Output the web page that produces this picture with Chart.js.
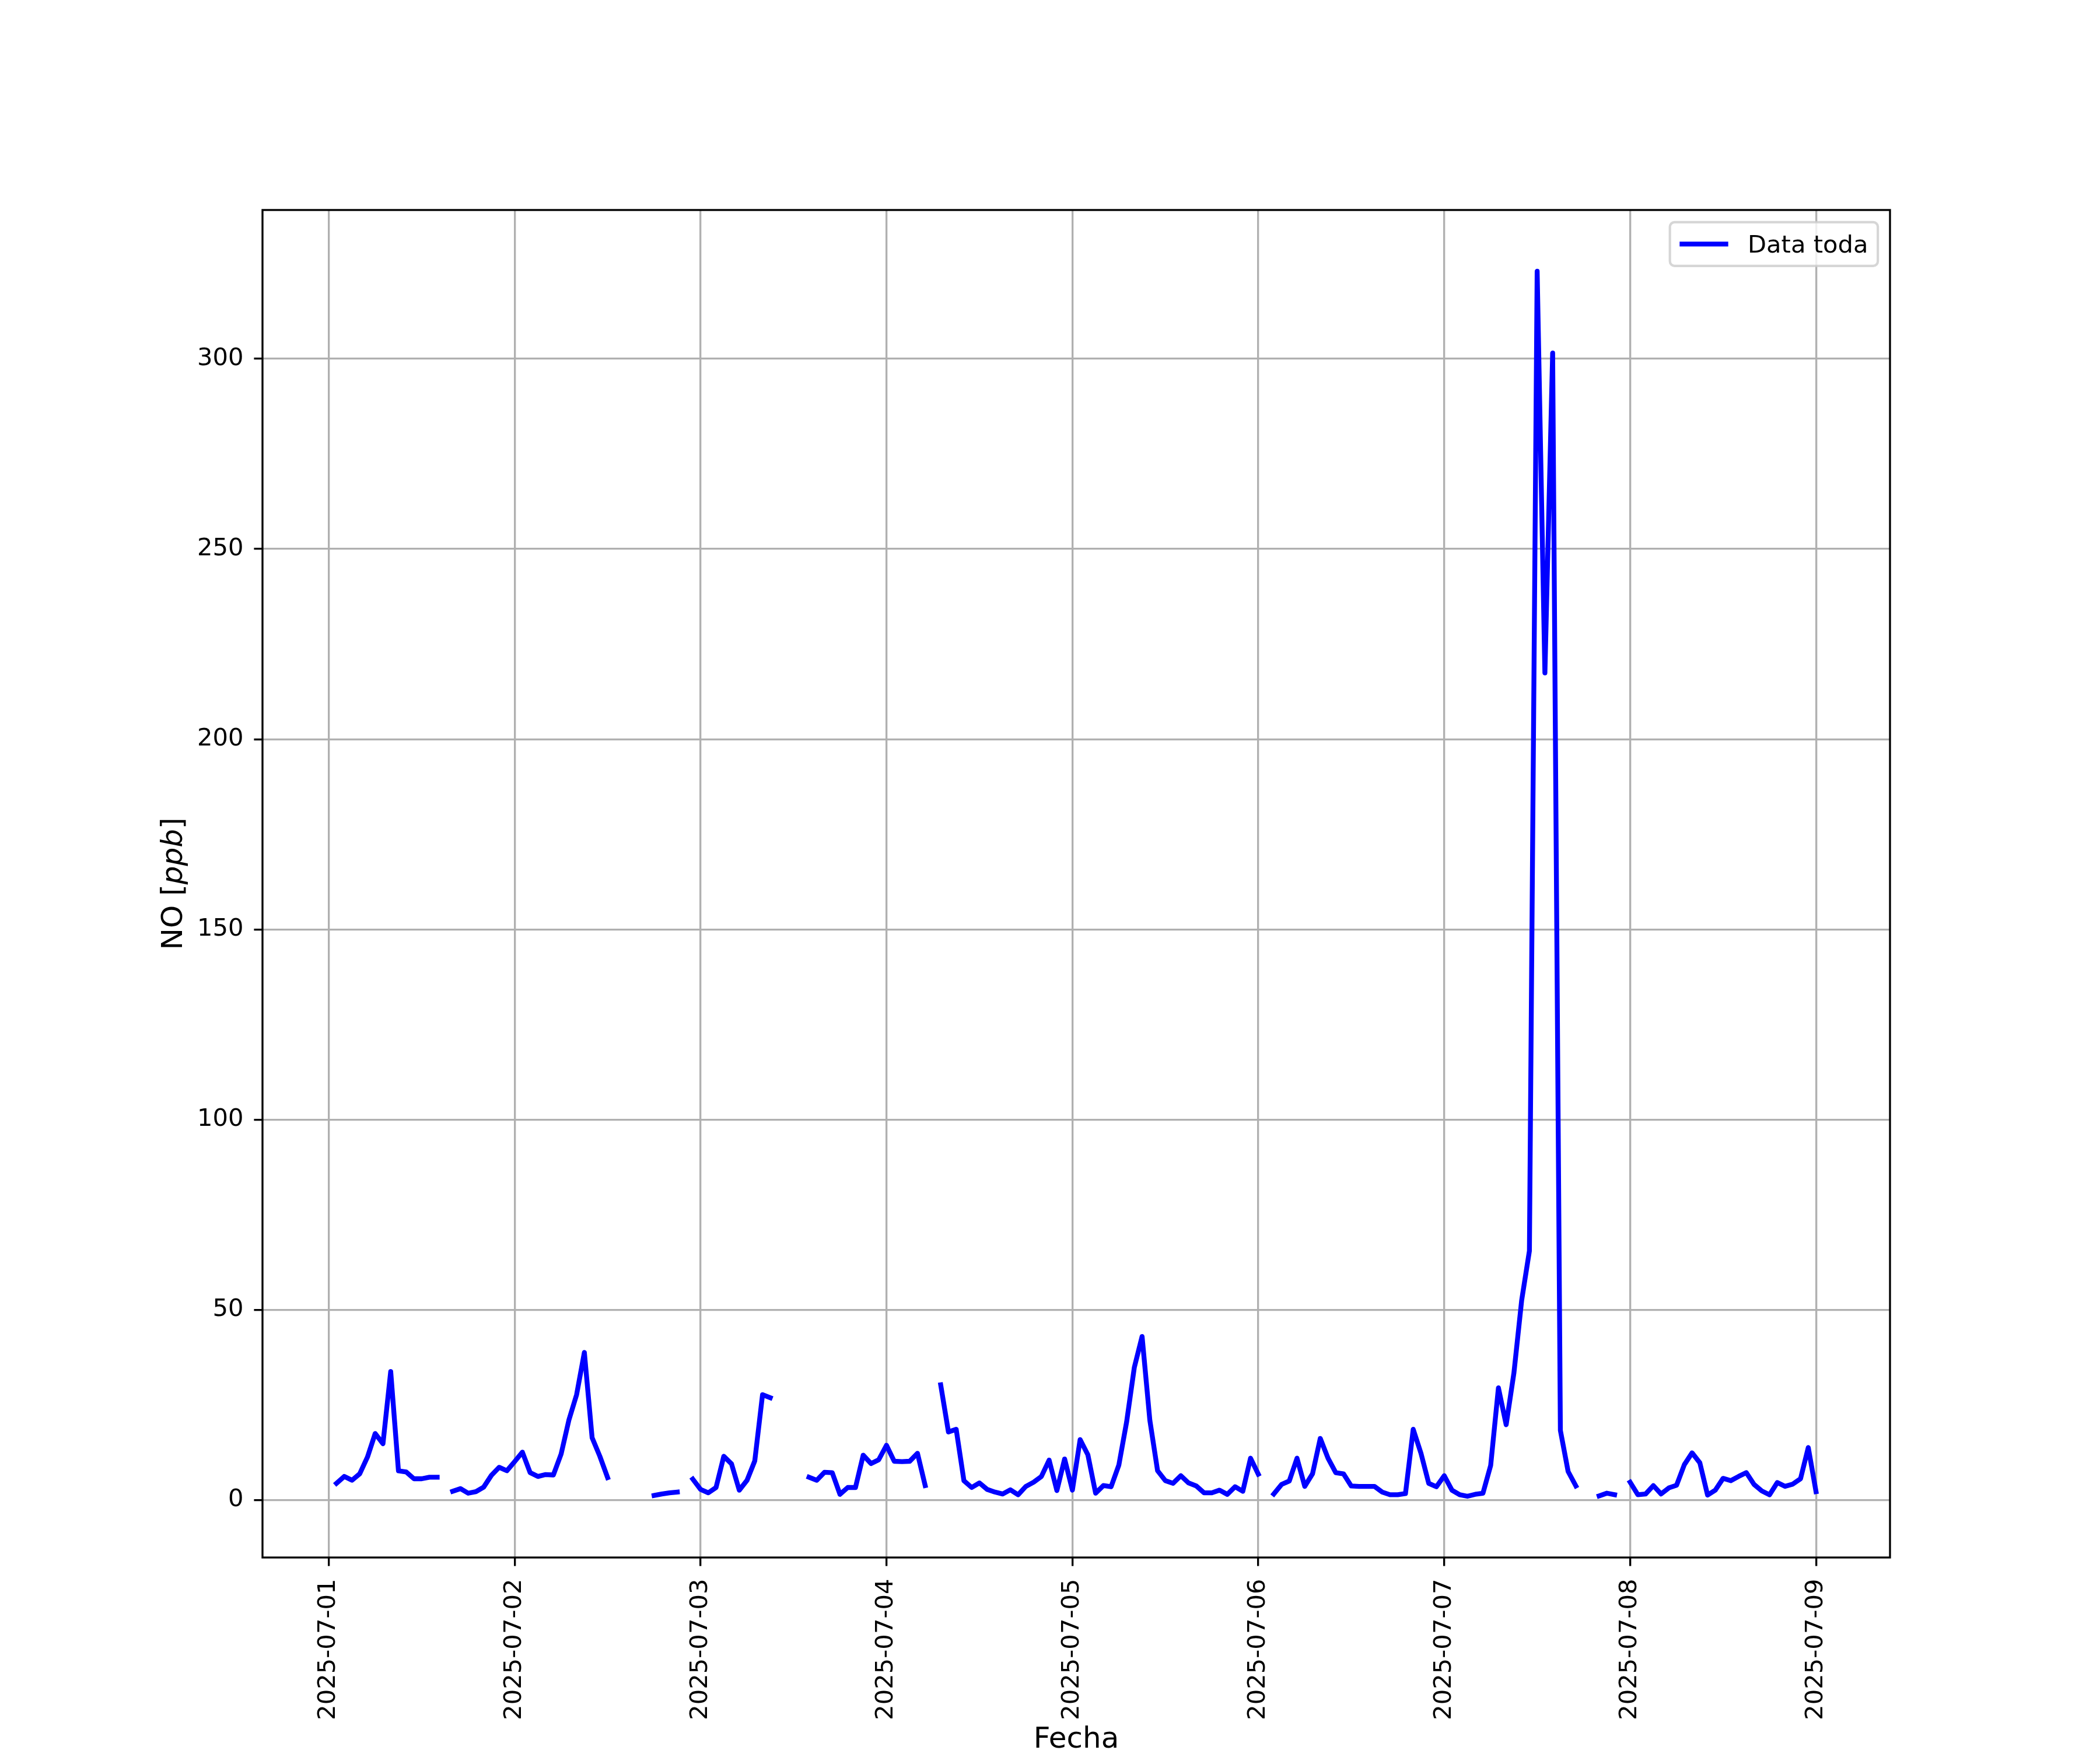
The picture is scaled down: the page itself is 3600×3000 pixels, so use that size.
<!DOCTYPE html>
<html>
<head>
<meta charset="utf-8">
<title>NO - Data toda</title>
<script src="https://cdn.jsdelivr.net/npm/chart.js@4.4.1/dist/chart.umd.min.js"></script>
<style>
    html, body { margin: 0; padding: 0; background: #ffffff; }
    canvas { display: block; }
</style>
</head>
<body>
<canvas id="noChart" width="3600" height="3000"></canvas>
<script>
// Valores horarios de NO [ppb], cada arreglo = horas 01..24 del dia (24 = 00h del dia siguiente)
const day1 = [4.4, 6.2, 5.2, 6.9, 11.3, 17.5, 14.8, 33.8, 7.7, 7.4, 5.6, 5.6, 6.0, 6.0, null, 2.3, 3.0, 1.8, 2.2, 3.4, 6.5, 8.6, 7.7, 10.1];
const day2 = [12.6, 7.2, 6.2, 6.7, 6.6, 12.1, 21.0, 27.7, 38.8, 16.4, 11.5, 5.9, null, null, null, null, null, 1.2, 1.6, 1.9, 2.1, null, 5.5, 2.8];
const day3 = [1.9, 3.3, 11.5, 9.5, 2.6, 5.2, 10.3, 27.7, 26.9, null, null, null, null, 6.0, 5.2, 7.3, 7.2, 1.5, 3.3, 3.3, 11.8, 9.6, 10.6, 14.4];
const day4 = [10.2, 10.1, 10.2, 12.3, 3.8, null, 30.3, 17.9, 18.6, 5.1, 3.3, 4.5, 2.8, 2.1, 1.6, 2.7, 1.4, 3.6, 4.7, 6.2, 10.5, 2.5, 10.8, 2.6];
const day5 = [15.9, 11.9, 1.8, 3.8, 3.5, 9.2, 20.5, 34.9, 43.0, 21.0, 7.7, 5.1, 4.4, 6.4, 4.5, 3.7, 1.9, 1.9, 2.6, 1.5, 3.5, 2.3, 11.0, 6.8];
const day6 = [null, 1.6, 4.1, 5.0, 11.0, 3.6, 6.9, 16.2, 11.0, 7.2, 6.9, 3.7, 3.6, 3.6, 3.6, 2.1, 1.4, 1.4, 1.7, 18.6, 12.3, 4.4, 3.5, 6.4];
const day7 = [2.6, 1.4, 1.0, 1.5, 1.8, 9.1, 29.5, 19.8, 33.4, 52.5, 65.5, 323.0, 217.4, 301.5, 18.3, 7.5, 3.7, null, null, 1.1, 1.8, 1.4, null, 4.7];
const day8 = [1.4, 1.6, 3.8, 1.6, 3.2, 3.9, 9.3, 12.4, 9.8, 1.3, 2.6, 5.7, 5.1, 6.2, 7.2, 4.1, 2.4, 1.4, 4.6, 3.6, 4.2, 5.6, 13.8, 2.2];

const dayLabels = ['2025-07-01', '2025-07-02', '2025-07-03', '2025-07-04', '2025-07-05', '2025-07-06', '2025-07-07', '2025-07-08', '2025-07-09'];
const yTickValues = [0, 50, 100, 150, 200, 250, 300];
const seriesLabel = 'Data toda';

const PT = 300 / 72;              // figura a 300 dpi
const FONT = '"DejaVu Sans", "Liberation Sans", sans-serif';
const TICK_SIZE = 10 * PT;
const LABEL_SIZE = 12 * PT;
const LINE_W = 2 * PT;

// x = horas desde 2025-07-01 00:00
const points = [];
[day1, day2, day3, day4, day5, day6, day7, day8].forEach((day, d) => {
    day.forEach((v, h) => points.push({ x: d * 24 + h + 1, y: v }));
});

// margenes 5% como matplotlib
const xs = points.map(p => p.x);
const ys = points.filter(p => p.y !== null).map(p => p.y);
const xMin = Math.min(...xs), xMax = Math.max(...xs);
const yMin = Math.min(...ys), yMax = Math.max(...ys);
const xPad = (xMax - xMin) * 0.05, yPad = (yMax - yMin) * 0.05;

const framePlugin = {
    id: 'framePlugin',
    afterDatasetsDraw(chart) {
        const { ctx, chartArea: a } = chart;
        ctx.save();
        // ejes (spines)
        ctx.strokeStyle = '#000000';
        ctx.lineWidth = 0.8 * PT;
        ctx.strokeRect(a.left, a.top, a.right - a.left, a.bottom - a.top);

        // leyenda arriba a la derecha
        ctx.font = `${TICK_SIZE}px ${FONT}`;
        const textW = ctx.measureText(seriesLabel).width;
        const boxRight = a.right - 0.5 * TICK_SIZE;
        const boxTop = a.top + 0.5 * TICK_SIZE;
        const boxW = 0.4 * TICK_SIZE * 2 + 2.0 * TICK_SIZE + 0.8 * TICK_SIZE + textW;
        const boxH = 75;
        const boxLeft = boxRight - boxW;
        const r = 8;
        ctx.beginPath();
        ctx.moveTo(boxLeft + r, boxTop);
        ctx.arcTo(boxRight, boxTop, boxRight, boxTop + boxH, r);
        ctx.arcTo(boxRight, boxTop + boxH, boxLeft, boxTop + boxH, r);
        ctx.arcTo(boxLeft, boxTop + boxH, boxLeft, boxTop, r);
        ctx.arcTo(boxLeft, boxTop, boxRight, boxTop, r);
        ctx.closePath();
        ctx.fillStyle = 'rgba(255,255,255,0.8)';
        ctx.fill();
        ctx.strokeStyle = 'rgba(204,204,204,0.8)';
        ctx.lineWidth = 1.0 * PT;
        ctx.stroke();

        const midY = boxTop + boxH / 2;
        const hx = boxLeft + 0.4 * TICK_SIZE;
        ctx.strokeStyle = '#0000ff';
        ctx.lineWidth = LINE_W;
        ctx.lineCap = 'butt';
        ctx.beginPath();
        ctx.moveTo(hx, midY);
        ctx.lineTo(hx + 2.0 * TICK_SIZE, midY);
        ctx.stroke();

        ctx.fillStyle = '#000000';
        ctx.textAlign = 'left';
        ctx.textBaseline = 'alphabetic';
        ctx.fillText(seriesLabel, hx + 2.8 * TICK_SIZE, midY + 15);
        ctx.restore();
    },
    afterDraw(chart) {
        const { ctx, chartArea: a } = chart;
        ctx.save();
        ctx.fillStyle = '#000000';
        ctx.textBaseline = 'alphabetic';

        // titulo eje x
        ctx.font = `${LABEL_SIZE}px ${FONT}`;
        ctx.textAlign = 'center';
        ctx.fillText('Fecha', (a.left + a.right) / 2, a.bottom + 326);

        // titulo eje y: NO [ppb] con ppb en cursiva
        const parts = [
            { t: 'NO [', f: `${LABEL_SIZE}px ${FONT}` },
            { t: 'ppb', f: `italic ${LABEL_SIZE}px ${FONT}` },
            { t: ']', f: `${LABEL_SIZE}px ${FONT}` }
        ];
        let total = 0;
        parts.forEach(p => { ctx.font = p.f; p.w = ctx.measureText(p.t).width; total += p.w; });
        ctx.translate(a.left - 138, (a.top + a.bottom) / 2);
        ctx.rotate(-Math.PI / 2);
        ctx.textAlign = 'left';
        let x = -total / 2;
        parts.forEach(p => { ctx.font = p.f; ctx.fillText(p.t, x, 0); x += p.w; });
        ctx.restore();
    }
};

const ctx = document.getElementById('noChart').getContext('2d');
new Chart(ctx, {
    type: 'line',
    data: {
        datasets: [{
            label: seriesLabel,
            data: points,
            borderColor: '#0000ff',
            borderWidth: LINE_W,
            borderCapStyle: 'square',
            borderJoinStyle: 'round',
            pointRadius: 0,
            fill: false,
            tension: 0,
            spanGaps: false
        }]
    },
    options: {
        responsive: false,
        animation: false,
        devicePixelRatio: 1,
        layout: { padding: { top: 360, right: 360, left: 0, bottom: 0 } },
        plugins: {
            legend: { display: false },
            tooltip: { enabled: false }
        },
        scales: {
            x: {
                type: 'linear',
                min: xMin - xPad,
                max: xMax + xPad,
                afterBuildTicks: scale => {
                    scale.ticks = dayLabels.map((_, i) => ({ value: i * 24 }));
                },
                afterFit: scale => { scale.height = 330; },
                ticks: {
                    autoSkip: false,
                    minRotation: 90,
                    maxRotation: 90,
                    padding: 22,
                    color: '#000000',
                    font: { family: FONT, size: TICK_SIZE },
                    callback: value => dayLabels[Math.round(value / 24)]
                },
                grid: {
                    color: '#b0b0b0',
                    lineWidth: 0.8 * PT,
                    drawTicks: true,
                    tickLength: 3.5 * PT,
                    tickColor: '#000000',
                    tickWidth: 0.8 * PT
                },
                border: { display: false },
                title: { display: false }
            },
            y: {
                type: 'linear',
                min: yMin - yPad,
                max: yMax + yPad,
                afterBuildTicks: scale => {
                    scale.ticks = yTickValues.map(v => ({ value: v }));
                },
                afterFit: scale => { scale.width = 450; },
                ticks: {
                    padding: 18,
                    color: '#000000',
                    font: { family: FONT, size: TICK_SIZE },
                    callback: value => String(value)
                },
                grid: {
                    color: '#b0b0b0',
                    lineWidth: 0.8 * PT,
                    drawTicks: true,
                    tickLength: 3.5 * PT,
                    tickColor: '#000000',
                    tickWidth: 0.8 * PT
                },
                border: { display: false },
                title: { display: false }
            }
        }
    },
    plugins: [framePlugin]
});
</script>
</body>
</html>
